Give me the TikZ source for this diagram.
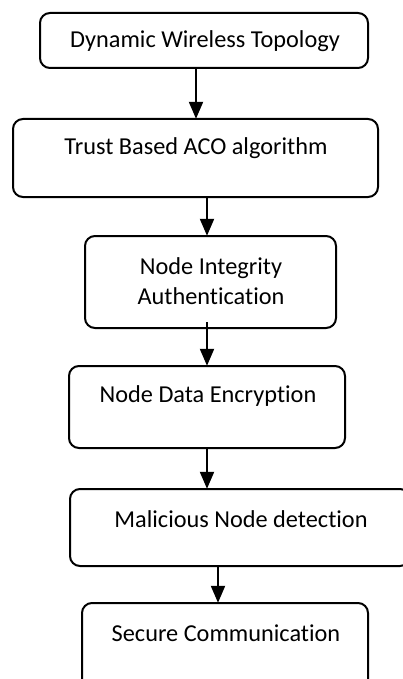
\documentclass[tikz,border=0pt]{standalone}
\usepackage{fontspec}
\setmainfont[Ligatures=NoCommon]{Carlito}
\usetikzlibrary{arrows.meta}
\begin{document}
\begin{tikzpicture}[x=1pt,y=-1pt,
  box/.style={draw=black,line width=2pt,rounded corners=10pt},
  pt/.style={inner sep=0pt,minimum size=0pt},
  txt/.style={inner sep=0pt,font=\fontsize{24.3}{30.5}\selectfont,align=center},
  arr/.style={draw=black,line width=2pt,-{Triangle[length=17pt,width=14pt]}}]
\useasboundingbox (0,0) rectangle (402,679);
\fill[white] (0,0) rectangle (402,679);
% boxes
\draw[box] (40,13) rectangle (368,68);
\node[pt] (b1s) at (196,68) {};
\node[txt] (t1) at (205,41) {Dynamic Wireless Topology};

\draw[box] (13,119) rectangle (378,197);
\node[pt] (b2n) at (196,119) {};
\node[pt] (b2s) at (207,197) {};
\node[txt] (t2) at (196,148) {Trust Based ACO algorithm};

\draw[box] (85,236) rectangle (336,328);
\node[pt] (b3n) at (207,236) {};
\node[pt] (b3s) at (207,322) {};
\node[txt] (t3) at (211,281) {Node Integrity\\Authentication};

\draw[box] (69,366) rectangle (345,448);
\node[pt] (b4n) at (207,366) {};
\node[pt] (b4s) at (207,448) {};
\node[txt] (t4) at (208,396) {Node Data Encryption};

\draw[box] (70,489) rectangle (410,566);
\node[pt] (b5n) at (207,489) {};
\node[pt] (b5s) at (218,566) {};
\node[txt] (t5) at (241,519) {Malicious Node detection};

\draw[box] (82,603) rectangle (368,700);
\node[pt] (b6n) at (218,603) {};
\node[txt] (t6) at (226,633) {Secure Communication};

% arrows
\draw[arr] (b1s) -- (b2n);
\draw[arr] (b2s) -- (b3n);
\draw[arr] (b3s) -- (b4n);
\draw[arr] (b4s) -- (b5n);
\draw[arr] (b5s) -- (b6n);
\end{tikzpicture}
\end{document}
